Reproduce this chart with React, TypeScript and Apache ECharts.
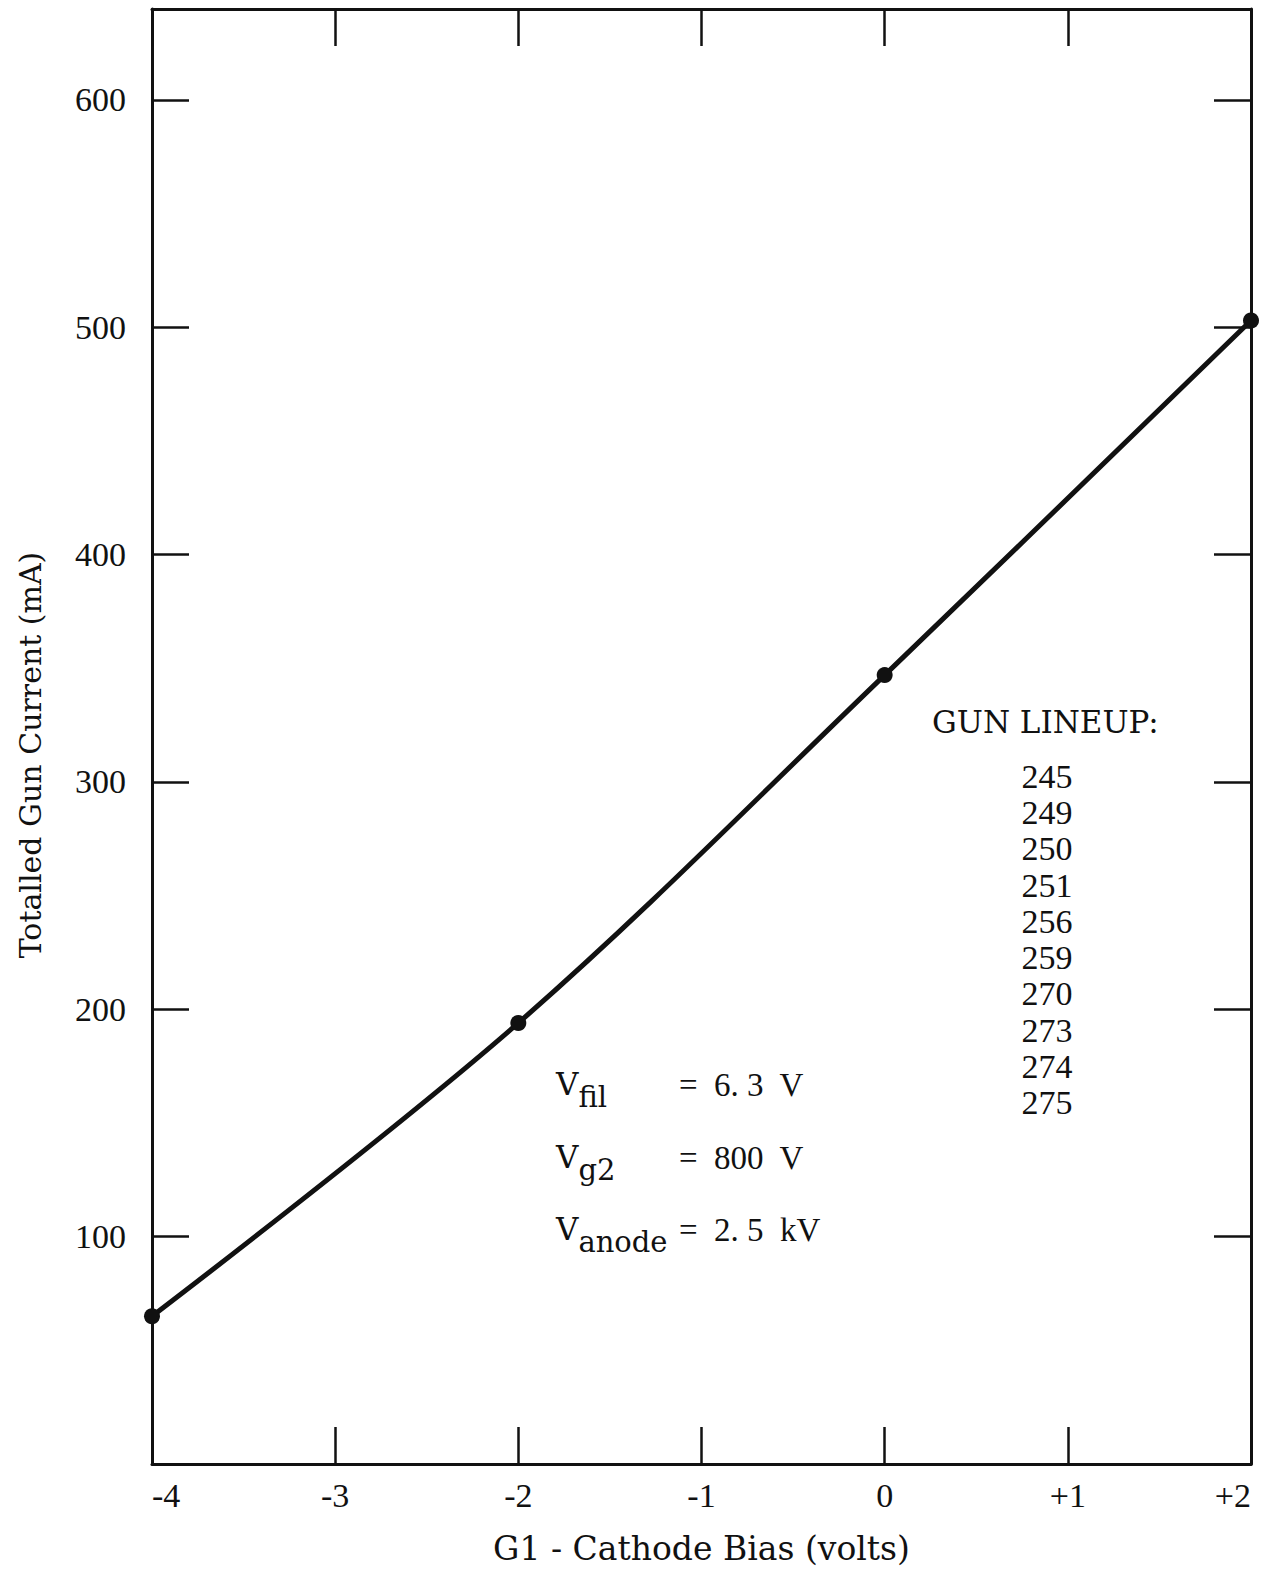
import React, { useEffect, useRef } from "react";
import * as echarts from "echarts";

const biasVolts = [-4, -2, 0, 2];
const gunCurrent = [65, 194, 347, 503];
const xTicks = [-4, -3, -2, -1, 0, 1, 2];
const yTicks = [100, 200, 300, 400, 500, 600];
const gunLineup = ["245", "249", "250", "251", "256", "259", "270", "273", "274", "275"];
const xTitle = "G1 - Cathode Bias (volts)";
const yTitle = "Totalled Gun Current (mA)";

const FONT = "Liberation Serif";
const WIDE = "DejaVu Serif";
const INK = "#111";

export default function App() {
  const ref = useRef<HTMLDivElement>(null);
  useEffect(() => {
    if (!ref.current) return;
    const chart = echarts.init(ref.current, undefined, { renderer: "svg" });
    const data = biasVolts.map((x, i) => [x, gunCurrent[i]]);
    const fmtX = (v: number) => (xTicks.includes(v) ? (v > 0 ? "+" + v : String(v)) : "");
    const common = {
      axisLine: { show: true, onZero: false, lineStyle: { color: INK, width: 3 } },
      axisTick: { show: true, inside: true, length: 37, lineStyle: { color: INK, width: 2.5 } },
      splitLine: { show: false },
    };
    chart.setOption({
      animation: false,
      backgroundColor: "#fff",
      grid: { left: 152, right: 16, top: 9, bottom: 103, containLabel: false },
      xAxis: [
        {
          type: "value",
          min: -4,
          max: 2,
          interval: 1,
          position: "bottom",
          ...common,
          axisLabel: {
            show: true,
            formatter: fmtX,
            color: INK,
            fontFamily: FONT,
            fontSize: 34,
            margin: 14,
            alignMinLabel: "left",
            alignMaxLabel: "right",
          },
          name: xTitle,
          nameLocation: "middle",
          nameGap: 68,
          nameTextStyle: { color: INK, fontFamily: WIDE, fontSize: 33 },
        },
        {
          type: "value",
          min: -4,
          max: 2,
          interval: 1,
          position: "top",
          ...common,
          axisLabel: { show: false },
        },
      ],
      yAxis: [
        {
          type: "value",
          min: 0,
          max: 640,
          interval: 100,
          position: "left",
          ...common,
          axisLabel: {
            show: true,
            color: INK,
            fontFamily: FONT,
            fontSize: 34,
            margin: 26,
            showMaxLabel: false,
            formatter: (v: number) => (yTicks.includes(v) ? String(v) : ""),
          },
        },
        {
          type: "value",
          min: 0,
          max: 640,
          interval: 100,
          position: "right",
          ...common,
          axisLabel: { show: false },
        },
      ],
      series: [
        {
          type: "line",
          data,
          smooth: 0.35,
          symbol: "circle",
          symbolSize: 16,
          itemStyle: { color: INK },
          lineStyle: { color: INK, width: 5 },
          clip: false,
          z: 5,
        },
      ],
      graphic: [
        {
          type: "text",
          x: 30,
          y: 755,
          rotation: Math.PI / 2,
          style: {
            text: yTitle,
            fill: INK,
            font: `30px "${WIDE}"`,
            align: "center",
            verticalAlign: "middle",
          },
        },
        {
          type: "text",
          x: 932,
          y: 706,
          style: { text: "GUN LINEUP:", fill: INK, font: `31px "${WIDE}"` },
        },
        {
          type: "text",
          x: 1047,
          y: 758,
          style: {
            text: gunLineup.join("\n"),
            fill: INK,
            font: `34px "${FONT}"`,
            align: "center",
            lineHeight: 36.3,
          },
        },
        ...[
          { sub: "fil", val: "=  6. 3  V", y: 1068 },
          { sub: "g2", val: "=  800  V", y: 1141 },
          { sub: "anode", val: "=  2. 5  kV", y: 1213 },
        ].map((r) => ({
          type: "group",
          children: [
            {
              type: "text",
              x: 556,
              y: r.y,
              style: {
                text: "{v|V}{s|" + r.sub + "}",
                rich: {
                  v: { fontFamily: WIDE, fontSize: 31, fill: INK, verticalAlign: "top", lineHeight: 34 },
                  s: { fontFamily: WIDE, fontSize: 29, fill: INK, padding: [24, 0, 0, 0], lineHeight: 34 },
                },
              },
            },
            {
              type: "text",
              x: 679,
              y: r.y,
              style: { text: r.val, fill: INK, font: `33px "${FONT}"` },
            },
          ],
        })),
      ],
    });
    return () => chart.dispose();
  }, []);
  return (
    <div
      ref={ref}
      style={{ position: "absolute", left: 0, top: 0, width: 1267, height: 1570, background: "#fff" }}
    />
  );
}
